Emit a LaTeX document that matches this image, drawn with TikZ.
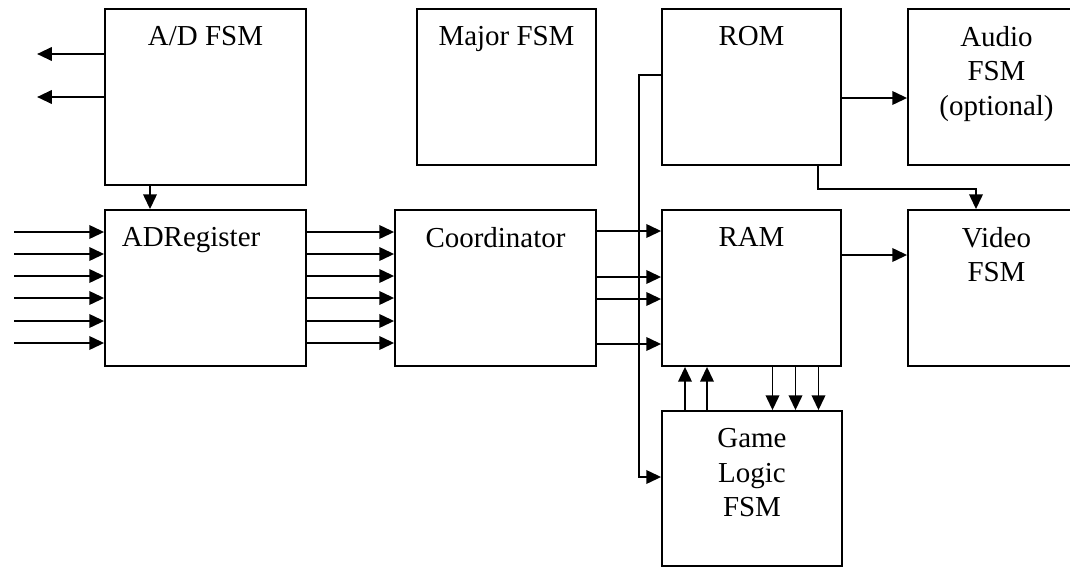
\documentclass[tikz,border=0pt]{standalone}
\usepackage{fontspec}
\setmainfont{Liberation Serif}
\usetikzlibrary{arrows.meta}
\begin{document}
\begin{tikzpicture}[
    blk/.style={draw,line width=1.3pt,rectangle,inner sep=0pt},
    ttl/.style={anchor=north,inner sep=0pt,yshift=-0.44cm,align=center},
    arr/.style={line width=1.3pt,-{Triangle[length=0.37cm,width=0.34cm]}},
    every node/.style={font=\fontsize{20.6}{24.8}\selectfont}]
  \useasboundingbox[fill=white] (0,0) rectangle (26.75,-14.2);
  % top row
  \node[blk,minimum width=5.025cm,minimum height=4.4cm,label={[ttl]north:A/D FSM}] (adfsm) at (5.1375,-2.425) {};
  \node[blk,minimum width=4.475cm,minimum height=3.9cm,label={[ttl]north:Major FSM}] (major) at (12.6625,-2.175) {};
  \node[blk,minimum width=4.475cm,minimum height=3.9cm,label={[ttl]north:ROM}] (rom) at (18.7875,-2.175) {};
  \node[blk,minimum width=4.425cm,minimum height=3.9cm,label={[ttl]north:Audio\\FSM\\(optional)}] (audio) at (24.9125,-2.175) {};
  % middle row
  \node[blk,minimum width=5.025cm,minimum height=3.9cm,label={[ttl,xshift=-0.36cm]north:ADRegister}] (adreg) at (5.1375,-7.2) {};
  \node[blk,minimum width=5.025cm,minimum height=3.9cm,label={[ttl]north:Coordinator}] (coord) at (12.3875,-7.2) {};
  \node[blk,minimum width=4.475cm,minimum height=3.9cm,label={[ttl]north:RAM}] (ram) at (18.7875,-7.2) {};
  \node[blk,minimum width=4.425cm,minimum height=3.9cm,label={[ttl]north:Video\\FSM}] (video) at (24.9125,-7.2) {};
  % bottom
  \node[blk,minimum width=4.5cm,minimum height=3.875cm,label={[ttl]north:Game\\Logic\\FSM}] (game) at (18.8,-12.2125) {};
  % A/D side
  \foreach \dy in {1.075,0}
    \draw[arr] ([yshift=\dy cm]adfsm.west) -- ++(-1.675,0);
  \draw[arr] ([xshift=-1.3875cm]adfsm.south) -- ([xshift=-1.3875cm]adreg.north);
  \foreach \dy in {1.4,0.85,0.3,-0.25,-0.825,-1.375}{
    \draw[arr] ([xshift=-2.25cm,yshift=\dy cm]adreg.west) -- ([yshift=\dy cm]adreg.west);
    \draw[arr] ([yshift=\dy cm]adreg.east) -- ([yshift=\dy cm]coord.west);
  }
  \foreach \dy in {1.425,0.275,-0.275,-1.4}
    \draw[arr] ([yshift=\dy cm]coord.east) -- ([yshift=\dy cm]ram.west);
  % memories
  \draw[arr] ([yshift=-0.275cm]rom.east) -- ([yshift=-0.275cm]audio.west);
  \draw[arr] ([yshift=0.825cm]ram.east) -- ([yshift=0.825cm]video.west);
  \draw[arr] ([xshift=1.6625cm]rom.south) -- ++(0,-0.575) -| ([xshift=-0.5125cm]video.north);
  \draw[arr] ([yshift=0.3cm]rom.west) -- ++(-0.55,0) |- ([yshift=0.2875cm]game.west);
  % RAM <-> game logic
  \foreach \dx in {-1.675,-1.125}
    \draw[arr] ([xshift=\dx cm]game.north) -- ([xshift=\dx cm]game.north |- ram.south);
  \foreach \dx in {0.525,1.1,1.675}
    \draw[arr] ([xshift=\dx cm]ram.south) -- ([xshift=\dx cm]ram.south |- game.north);
\end{tikzpicture}
\end{document}
